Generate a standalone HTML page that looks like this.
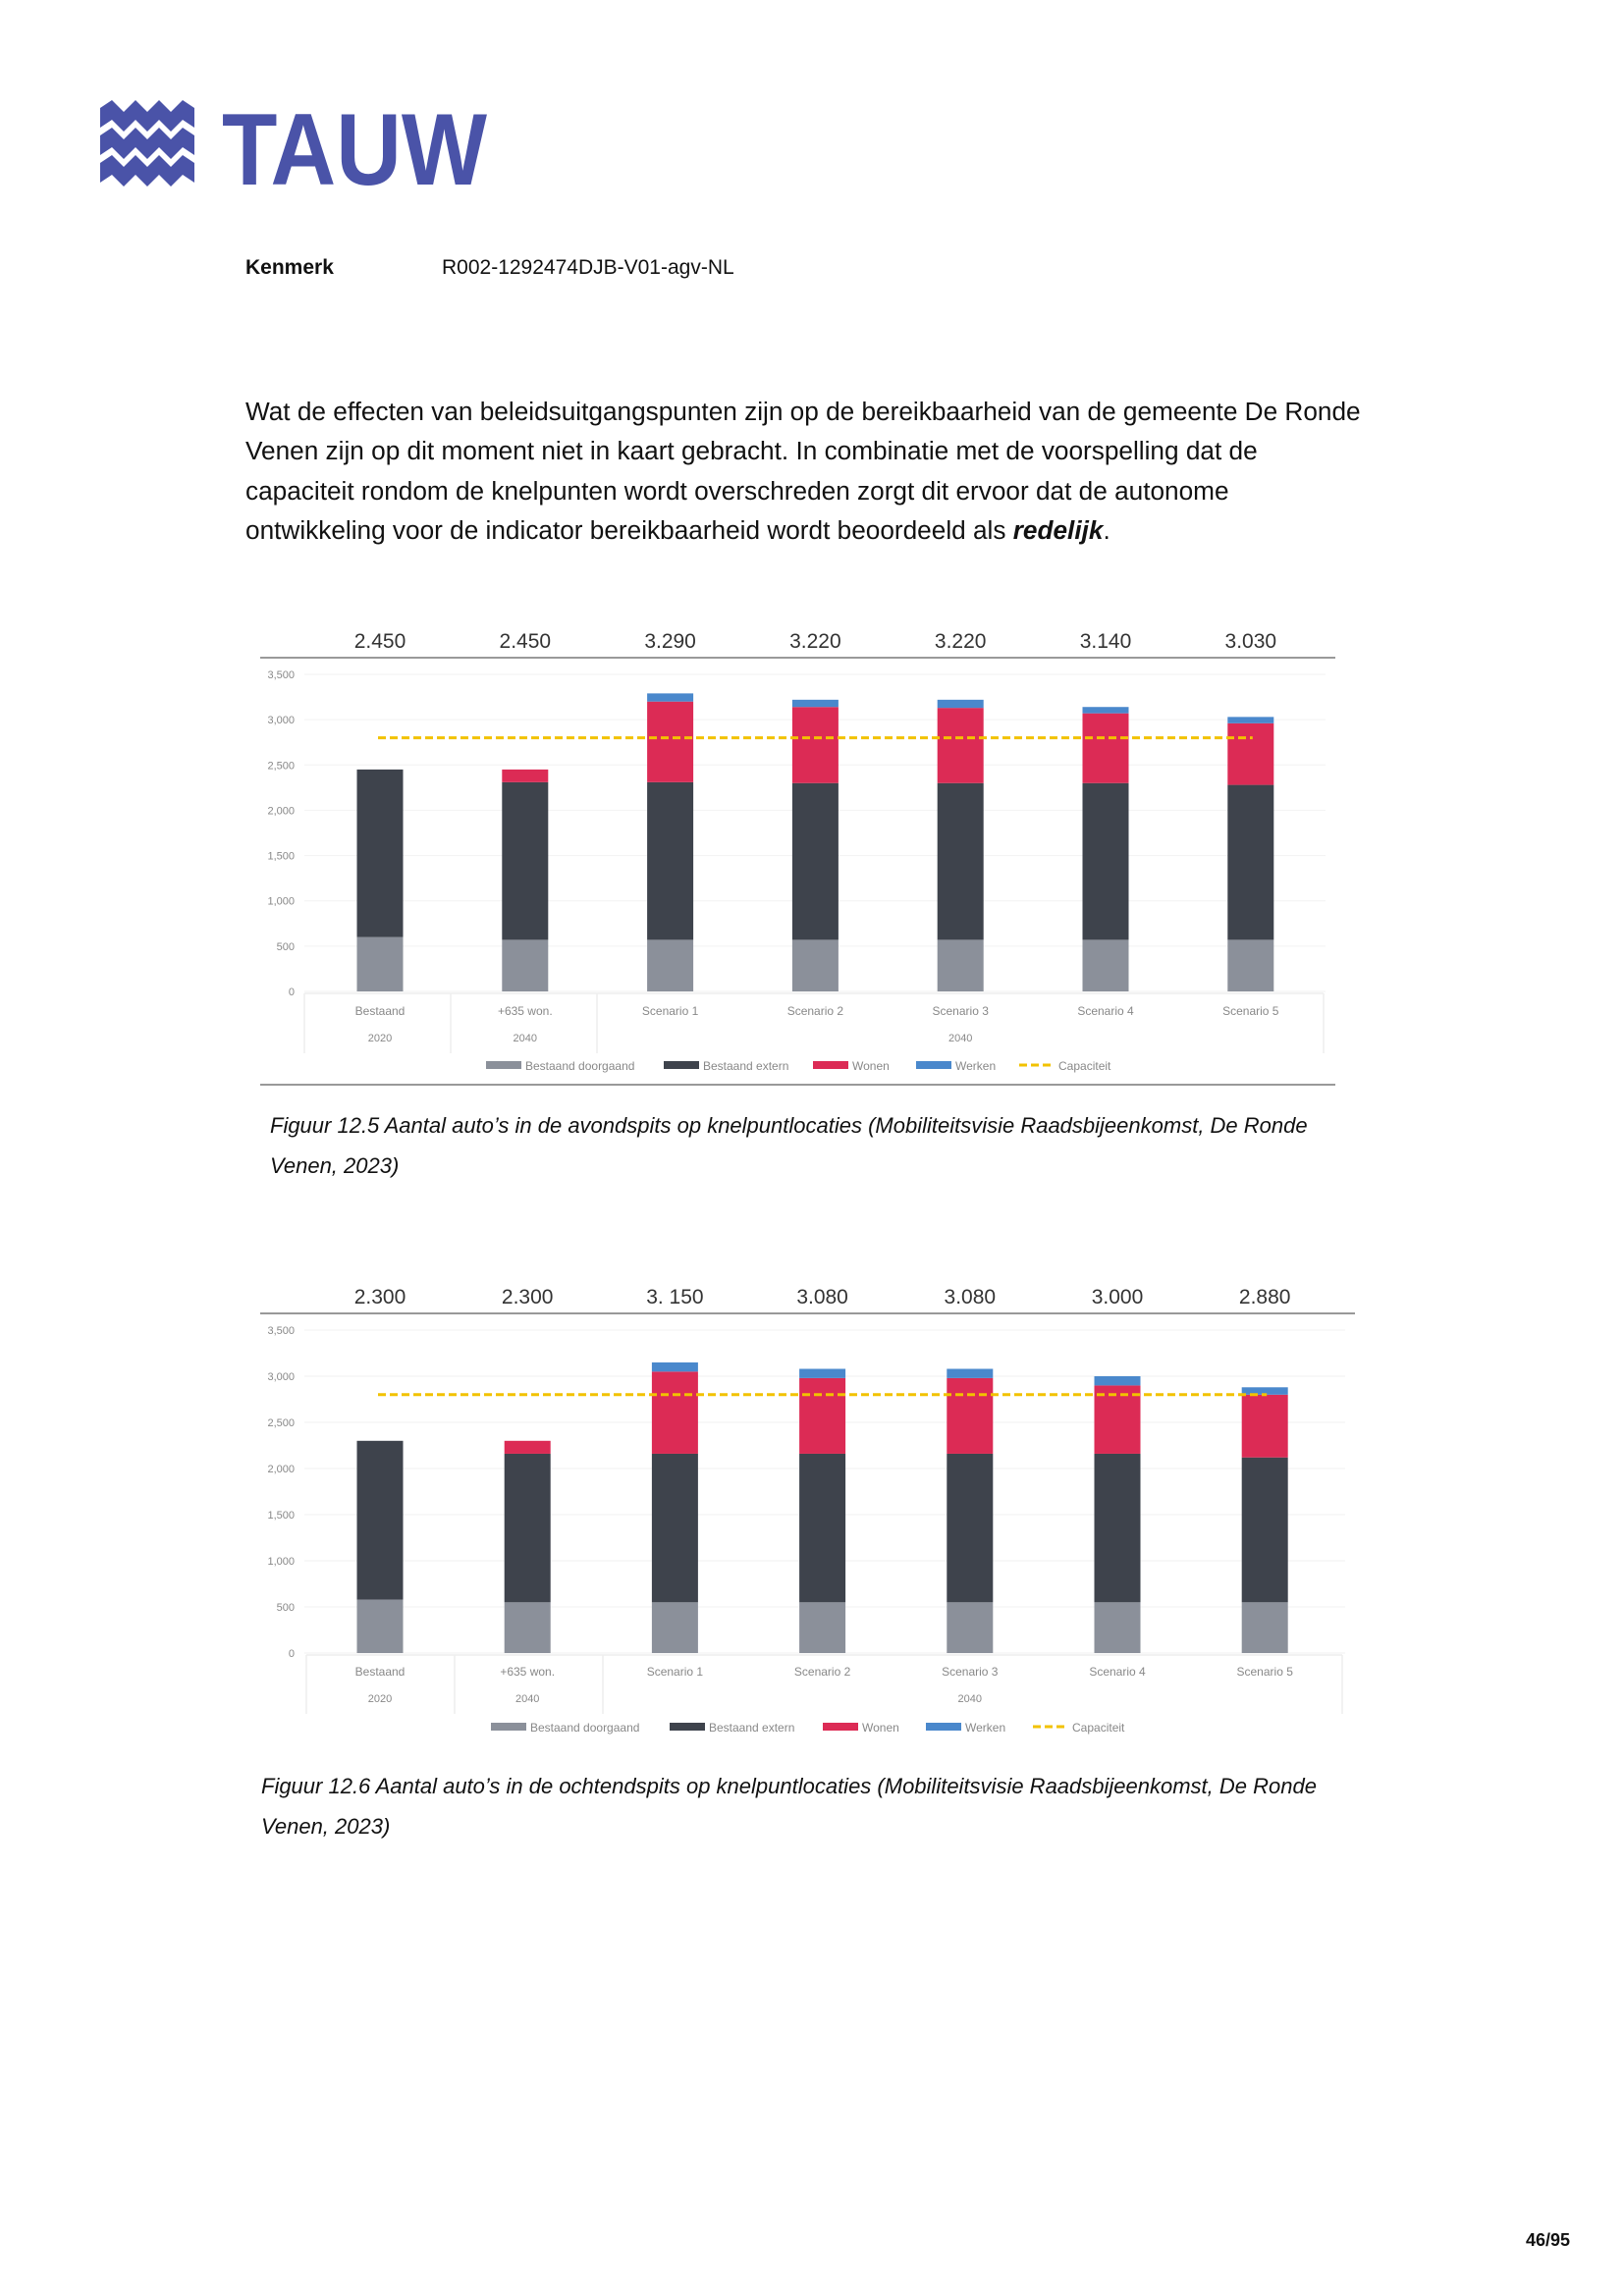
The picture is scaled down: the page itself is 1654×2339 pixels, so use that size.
<!DOCTYPE html>
<html><head><meta charset="utf-8"><style>
body{margin:0;background:#fff}
#page{position:relative;width:1654px;height:2339px;background:#fff;font-family:"Liberation Sans",sans-serif;color:#111;overflow:hidden}
.t{position:absolute;white-space:nowrap}
svg text{font-family:"Liberation Sans",sans-serif}
</style></head><body>
<div id="page">
<svg class="t" style="left:100px;top:100px" width="400" height="102">
 <g fill="#4a53a8">
  <path d="M2,10 L14,2 L26,14 L38,2 L50,14 L62,2 L74,14 L86,2 L98,10 L98,30 L86,22 L74,34 L62,22 L50,34 L38,22 L26,34 L14,22 L2,30Z"/>
  <path d="M2,38 L14,30 L26,42 L38,30 L50,42 L62,30 L74,42 L86,30 L98,38 L98,58 L86,50 L74,62 L62,50 L50,62 L38,50 L26,62 L14,50 L2,58Z"/>
  <path d="M2,66 L14,58 L26,70 L38,58 L50,70 L62,58 L74,70 L86,58 L98,66 L98,86 L86,78 L74,90 L62,78 L50,90 L38,78 L26,90 L14,78 L2,86Z"/>
 </g>
 <text x="126" y="88" font-size="104" font-weight="bold" fill="#4a53a8" textLength="270" lengthAdjust="spacingAndGlyphs">TAUW</text>
</svg>
<div class="t" style="left:250px;top:261px;font-size:21px;font-weight:bold">Kenmerk</div>
<div class="t" style="left:450px;top:261px;font-size:21px">R002-1292474DJB-V01-agv-NL</div>
<div class="t" style="left:250px;top:399px;font-size:26.2px;line-height:40.3px">Wat de effecten van beleidsuitgangspunten zijn op de bereikbaarheid van de gemeente De Ronde<br>Venen zijn op dit moment niet in kaart gebracht. In combinatie met de voorspelling dat de<br>capaciteit rondom de knelpunten wordt overschreden zorgt dit ervoor dat de autonome<br>ontwikkeling voor de indicator bereikbaarheid wordt beoordeeld als <b><i>redelijk</i></b>.</div>
<svg id="chart1" class="t" style="left:0;top:0" width="1654" height="1130"></svg>
<svg id="chart2" class="t" style="left:0;top:0" width="1654" height="1800"></svg>
<div class="t" style="left:275px;top:1126px;font-size:22px;line-height:41px;font-style:italic;white-space:normal;width:1100px">Figuur 12.5 Aantal auto’s in de avondspits op knelpuntlocaties (Mobiliteitsvisie Raadsbijeenkomst, De Ronde Venen, 2023)</div>
<div class="t" style="left:266px;top:1799px;font-size:22px;line-height:41px;font-style:italic;white-space:normal;width:1120px">Figuur 12.6 Aantal auto’s in de ochtendspits op knelpuntlocaties (Mobiliteitsvisie Raadsbijeenkomst, De Ronde Venen, 2023)</div>
<div class="t" style="left:1554px;top:2272px;font-size:18px;font-weight:bold">46/95</div>
</div>
<script>
const categories = ["Bestaand","+635 won.","Scenario 1","Scenario 2","Scenario 3","Scenario 4","Scenario 5"];
const yTicks = [0,500,1000,1500,2000,2500,3000,3500];
const yTickLabels = ["0","500","1,000","1,500","2,000","2,500","3,000","3,500"];
const capacity1 = 2800;
const doorgaand1 = [600,570,570,570,570,570,570];
const extern1 = [1850,1740,1740,1730,1730,1730,1710];
const wonen1 = [0,140,890,840,830,770,680];
const werken1 = [0,0,90,80,90,70,70];
const totals1 = ["2.450","2.450","3.290","3.220","3.220","3.140","3.030"];
const capacity2 = 2800;
const doorgaand2 = [580,550,550,550,550,550,550];
const extern2 = [1720,1610,1610,1610,1610,1610,1570];
const wonen2 = [0,140,890,820,820,740,680];
const werken2 = [0,0,100,100,100,100,80];
const totals2 = ["2.300","2.300","3. 150","3.080","3.080","3.000","2.880"];
const legendLabels = ["Bestaand doorgaand","Bestaand extern","Wonen","Werken","Capaciteit"];
const colors = ["#8b909a","#3e434c","#dc2b55","#4a88cc"];
const NS="http://www.w3.org/2000/svg";
function mk(svg,tag,attrs,txt){const e=document.createElementNS(NS,tag);for(const k in attrs)e.setAttribute(k,attrs[k]);if(txt!==undefined)e.textContent=txt;svg.appendChild(e);return e;}
function draw(id,g,series,totals,cap){
 const svg=document.getElementById(id);
 const y=v=>g.y0-(v/3500)*(g.y0-g.y3500);
 const x=i=>g.x0+i*g.step;
 let e=mk(svg,'line',{x1:g.left,x2:g.right,y1:g.topLine,y2:g.topLine,stroke:'#999','stroke-width':2});
 
 e=mk(svg,'line',{x1:g.left,x2:g.right,y1:g.botLine,y2:g.botLine,stroke:'#999','stroke-width':2});
 
 yTicks.forEach((t,k)=>{
  e=mk(svg,'line',{x1:g.left+45,x2:g.right-10,y1:y(t),y2:y(t),stroke:'#f2f2f2','stroke-width':1});
  
  e=mk(svg,'text',{x:g.left+35,y:y(t)+4,'font-size':11,fill:'#888','text-anchor':'end'},yTickLabels[k]);
  
 });
 g.dividers.forEach(dx=>{
  e=mk(svg,'line',{x1:dx,x2:dx,y1:y(0)+2,y2:g.yearY+12,stroke:'#eee','stroke-width':1.5});
  
 });
 e=mk(svg,'line',{x1:g.dividers[0],x2:g.dividers[g.dividers.length-1],y1:y(0)+2,y2:y(0)+2,stroke:'#eee','stroke-width':1.5});
 
 categories.forEach((c,i)=>{
  let base=0;
  series.forEach((s,si)=>{
   if(s[i]>0){
    e=mk(svg,'rect',{x:x(i)-23.5,width:47,y:y(base+s[i]),height:y(base)-y(base+s[i]),fill:colors[si]});
    
    
   }
   base+=s[i];
  });
  e=mk(svg,'text',{x:x(i),y:g.valY,'font-size':21,fill:'#333','text-anchor':'middle'},totals[i]);
  
  e=mk(svg,'text',{x:x(i),y:g.catY,'font-size':12,fill:'#888','text-anchor':'middle'},c);
  
 });
 [["2020",0],["2040",1],["2040",4]].forEach(p=>{
  e=mk(svg,'text',{x:x(p[1]),y:g.yearY,'font-size':11,fill:'#888','text-anchor':'middle'},p[0]);
  
 });
 e=mk(svg,'line',{x1:x(0)-2,x2:x(6)+2,y1:y(cap),y2:y(cap),stroke:'#f2c200','stroke-width':3,'stroke-dasharray':'8,4'});
 
 legendLabels.forEach((l,k)=>{
  const lx=g.legX[k];
  if(k<4){e=mk(svg,'rect',{x:lx,y:g.legY-9,width:36,height:8,fill:colors[k]});}
  else{e=mk(svg,'line',{x1:lx,x2:lx+34,y1:g.legY-5,y2:g.legY-5,stroke:'#f2c200','stroke-width':3,'stroke-dasharray':'8,4'});}
  
  e=mk(svg,'text',{x:lx+40,y:g.legY,'font-size':12,fill:'#888'},l);
  
 });
}
draw('chart1',{left:265,right:1360,topLine:670,botLine:1105,y0:1010,y3500:687,x0:387,step:147.8,valY:660,catY:1034,yearY:1061,dividers:[310,459,608,1348],legY:1090,legX:[495,676,828,933,1038]},[doorgaand1,extern1,wonen1,werken1],totals1,capacity1);
draw('chart2',{left:265,right:1380,topLine:1338,botLine:-10,y0:1684,y3500:1355,x0:387,step:150.2,valY:1328,catY:1707,yearY:1734,dividers:[312,463,614,1367],legY:1764,legX:[500,682,838,943,1052]},[doorgaand2,extern2,wonen2,werken2],totals2,capacity2);
</script>
</body></html>
